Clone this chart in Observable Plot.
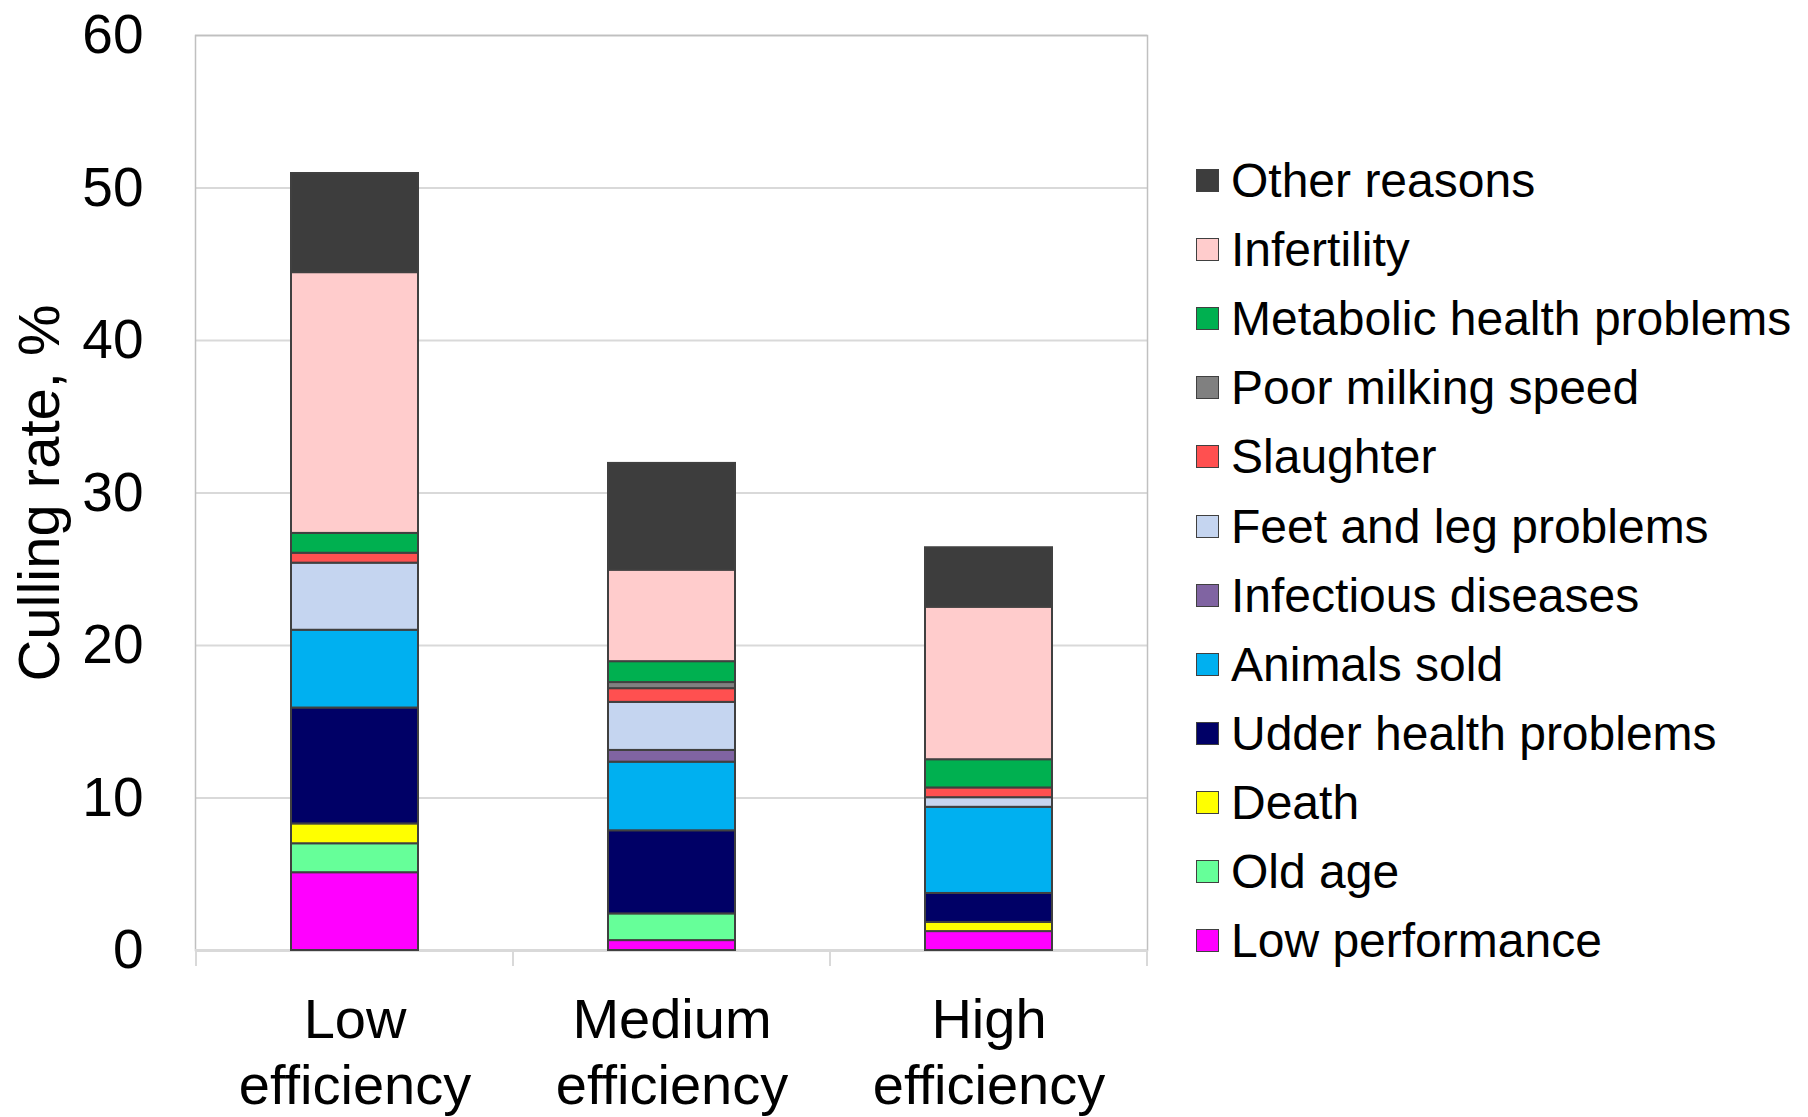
<!DOCTYPE html>
<html>
<head>
<meta charset="utf-8">
<script src="https://cdn.jsdelivr.net/npm/d3@7"></script>
<script src="https://cdn.jsdelivr.net/npm/@observablehq/plot@0.6"></script>
<style>
  html, body { margin: 0; padding: 0; background: #fff; }
  #wrap { position: relative; width: 1808px; height: 1117px; font-family: "Liberation Sans", Arial, sans-serif; }
  #legend { position: absolute; left: 1196px; top: 146px; }
  .row { display: flex; align-items: center; height: 69.1px; font-size: 48px; color: #000; white-space: nowrap; }
  .sw { width: 21px; height: 21px; border: 1px solid #404040; margin-right: 12px; flex: none; }
</style>
</head>
<body>
<div id="wrap"><div id="legend"></div></div>
<script>
const groups = ["Low efficiency", "Medium efficiency", "High efficiency"];
const causes = ["Low performance", "Old age", "Death", "Udder health problems", "Animals sold",
  "Infectious diseases", "Feet and leg problems", "Slaughter", "Poor milking speed",
  "Metabolic health problems", "Infertility", "Other reasons"];
const colors = ["#ff00ff", "#66ff99", "#ffff00", "#000066", "#00b0f0", "#8064a2",
  "#c5d5f0", "#ff5050", "#808080", "#00b050", "#ffcccc", "#3d3d3d"];
const lowValues    = [5.1, 1.9, 1.3, 7.6, 5.1, 0, 4.4, 0.65, 0, 1.3, 17.1, 6.5];
const mediumValues = [0.65, 1.75, 0, 5.45, 4.5, 0.77, 3.15, 0.9, 0.4, 1.37, 6.0, 7.0];
const highValues   = [1.24, 0, 0.6, 1.9, 5.65, 0, 0.63, 0.64, 0, 1.85, 10.0, 3.9];
const yTicks = [0, 10, 20, 30, 40, 50, 60];
const yTitle = "Culling rate, %";

const series = [lowValues, mediumValues, highValues];
const data = [];
groups.forEach((g, gi) => causes.forEach((c, ci) => {
  data.push({group: g, cause: c, value: series[gi][ci]});
}));
const shown = data.filter(d => d.value > 0);

const W = 1808, H = 1117, mL = 195, mR = 661, mT = 35, mB = 167;
const font = "Liberation Sans, Arial, sans-serif";

const chart = Plot.plot({
  width: W, height: H,
  marginLeft: mL, marginRight: mR, marginTop: mT, marginBottom: mB,
  style: {fontFamily: font, background: "#fff", color: "#000"},
  x: {domain: groups, padding: 0.6, paddingOuter: 0.3, axis: null},
  y: {domain: [0, 60], ticks: yTicks, axis: null},
  color: {domain: causes, range: colors},
  marks: [
    Plot.gridY(yTicks, {stroke: "#d9d9d9", strokeOpacity: 1, strokeWidth: 2}),
    Plot.frame({stroke: "#c0c0c0", strokeWidth: 1.5}),
    Plot.ruleY([0], {stroke: "#d9d9d9", strokeWidth: 3}),
    Plot.barY(shown, Plot.stackY({x: "group", y: "value", fill: "cause", order: causes,
      stroke: "#404040", strokeWidth: 2})),
    Plot.axisY({ticks: yTicks, tickSize: 0, tickPadding: 52, fontSize: 55, label: null}),
    Plot.text([yTitle], {text: d => d, frameAnchor: "left", rotate: -90, dx: -155,
      textAnchor: "middle", lineAnchor: "middle", fontSize: 58, fill: "#000"}),
    Plot.text(groups, {x: d => d, text: d => d.replace(" ", "\n"), frameAnchor: "bottom",
      lineAnchor: "top", dy: 41, fontSize: 56, lineHeight: 1.18, fill: "#000"})
  ]
});
document.getElementById("wrap").prepend(chart);

// category separator ticks below the axis, positioned from the band scale
const xs = chart.scale("x");
const xScale = Plot.scale({x: xs});
const step = xs.step !== undefined ? xs.step : (xs.range[1] - xs.range[0]) / groups.length;
const bw = xs.bandwidth;
const bounds = groups.map(g => xScale.apply(g) + bw / 2 - step / 2);
bounds.push(xScale.apply(groups[groups.length - 1]) + bw / 2 + step / 2);
const y0 = Plot.scale({y: chart.scale("y")}).apply(0);
const svg = d3.select(chart);
svg.append("g").selectAll("line").data(bounds).join("line")
  .attr("x1", d => d).attr("x2", d => d)
  .attr("y1", y0).attr("y2", y0 + 16)
  .attr("stroke", "#d9d9d9").attr("stroke-width", 2);

// legend (top to bottom = reverse stack order)
const legend = d3.select("#legend");
causes.slice().reverse().forEach(c => {
  const row = legend.append("div").attr("class", "row");
  row.append("div").attr("class", "sw").style("background", colors[causes.indexOf(c)]);
  row.append("span").text(c);
});
</script>
</body>
</html>
